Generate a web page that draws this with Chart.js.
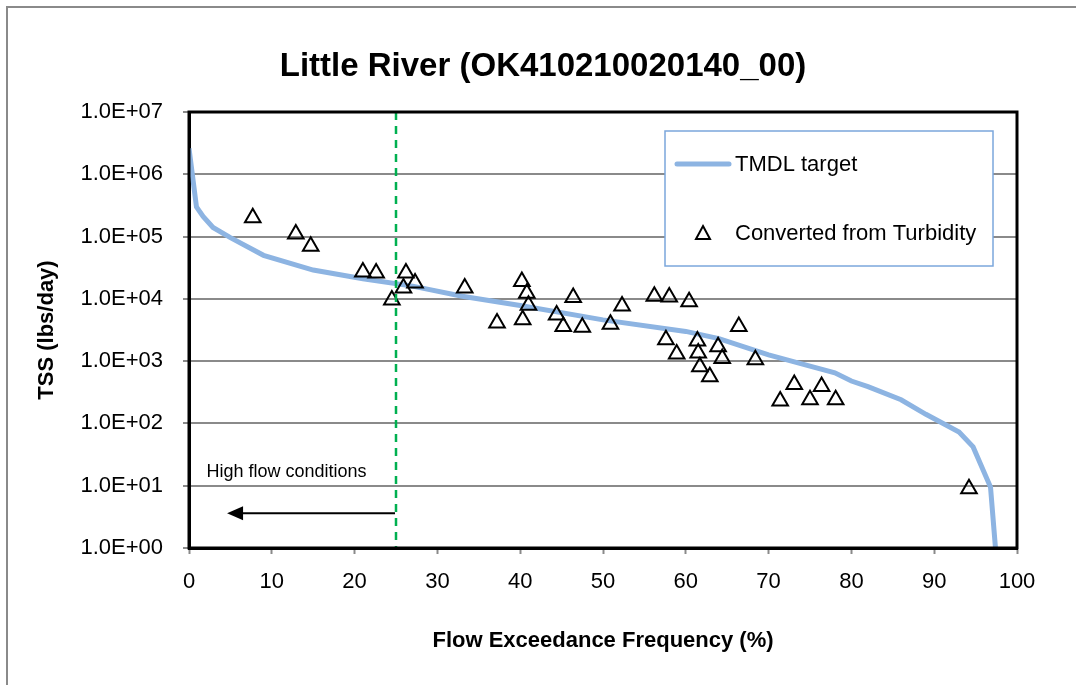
<!DOCTYPE html>
<html>
<head>
<meta charset="utf-8">
<script src="https://cdn.jsdelivr.net/npm/chart.js@4.4.1/dist/chart.umd.min.js"></script>
<style>
  html, body { margin: 0; padding: 0; background: #ffffff; }
  #wrap { width: 1076px; height: 685px; position: relative; }
</style>
</head>
<body>
<div id="wrap"><canvas id="c" width="1076" height="685"></canvas></div>
<script>
// ---- Data ----
const chartTitle = 'Little River (OK410210020140_00)';
const xAxisTitle = 'Flow Exceedance Frequency (%)';
const yAxisTitle = 'TSS (lbs/day)';
const tmdlLabel = 'TMDL target';
const obsLabel = 'Converted from Turbidity';
const annotationText = 'High flow conditions';
const highFlowBoundary = 25;
const arrowTipX = 4.6;
const arrowY = 3.6;

const tmdlX = [0, 0.9, 1.7, 2.9, 5, 9, 15, 21, 27, 33, 40, 50, 60, 64, 70, 75, 78, 80, 82, 86, 89, 93, 94.7, 96.8, 97.4];
const tmdlY = [2.6e6, 3.0e5, 2.1e5, 1.4e5, 9.6e4, 5.0e4, 2.9e4, 2.1e4, 1.6e4, 1.1e4, 7.8e3, 4.6e3, 3.0e3, 2.3e3, 1.26e3, 8.3e2, 6.5e2, 4.8e2, 3.9e2, 2.4e2, 1.4e2, 73, 42, 9.5, 1];

const obsX = [7.7, 12.9, 14.7, 21.0, 22.6, 24.5, 26.2, 25.9, 27.3, 33.3, 37.2, 40.2, 40.8, 41.0, 40.3, 44.4, 45.2, 46.4, 47.5, 50.9, 52.3, 56.2, 58.0, 60.4, 57.6, 58.9, 61.4, 61.5, 61.7, 62.9, 63.9, 64.4, 66.4, 68.4, 71.4, 73.1, 75.0, 76.4, 78.1, 94.2];
const obsY = [2.0e5, 1.1e5, 7.0e4, 2.7e4, 2.6e4, 9.6e3, 2.6e4, 1.5e4, 1.8e4, 1.5e4, 4.1e3, 1.9e4, 1.23e4, 7.9e3, 4.6e3, 5.5e3, 3.6e3, 1.05e4, 3.5e3, 3.9e3, 7.7e3, 1.1e4, 1.07e4, 9.0e3, 2.2e3, 1.3e3, 2.1e3, 1.35e3, 8.1e2, 5.6e2, 1.7e3, 1.1e3, 3.6e3, 1.05e3, 2.3e2, 4.2e2, 2.4e2, 3.9e2, 2.4e2, 8.9];

const yTickValues = [1, 10, 100, 1000, 10000, 100000, 1000000, 10000000];
const yTickLabels = ['1.0E+00', '1.0E+01', '1.0E+02', '1.0E+03', '1.0E+04', '1.0E+05', '1.0E+06', '1.0E+07'];
const xTickStep = 10;

// ---- Build ----
const FONT = "'Liberation Sans', Arial, sans-serif";
const tmdlColor = '#8DB4E2';
const tmdlData = tmdlX.map((x, i) => ({ x: x, y: tmdlY[i] }));
const obsData = obsX.map((x, i) => ({ x: x, y: obsY[i] }));

const decorPlugin = {
  id: 'decor',
  beforeDraw(chart) {
    const ctx = chart.ctx;
    ctx.save();
    ctx.fillStyle = '#ffffff';
    ctx.fillRect(0, 0, chart.width, chart.height);
    ctx.strokeStyle = '#8a8a8a';
    ctx.lineWidth = 2;
    ctx.beginPath();
    ctx.moveTo(7, chart.height + 5);
    ctx.lineTo(7, 7);
    ctx.lineTo(chart.width + 5, 7);
    ctx.stroke();
    // title
    ctx.fillStyle = '#000';
    ctx.font = 'bold 33px ' + FONT;
    ctx.textAlign = 'center';
    ctx.textBaseline = 'middle';
    ctx.fillText(chartTitle, 543, 67);
    ctx.restore();
  },
  afterDatasetsDraw(chart) {
    const ctx = chart.ctx;
    const xs = chart.scales.x, ys = chart.scales.y;
    const a = chart.chartArea;
    ctx.save();
    // dashed boundary
    const bx = xs.getPixelForValue(highFlowBoundary);
    ctx.strokeStyle = '#00B050';
    ctx.lineWidth = 2.5;
    ctx.setLineDash([8, 6]);
    ctx.beginPath();
    ctx.moveTo(bx, a.top);
    ctx.lineTo(bx, a.bottom);
    ctx.stroke();
    ctx.setLineDash([]);
    // arrow
    const ay = ys.getPixelForValue(arrowY);
    const tipX = xs.getPixelForValue(arrowTipX);
    ctx.strokeStyle = '#000';
    ctx.fillStyle = '#000';
    ctx.lineWidth = 2;
    ctx.beginPath();
    ctx.moveTo(bx - 1, ay);
    ctx.lineTo(tipX + 12, ay);
    ctx.stroke();
    ctx.beginPath();
    ctx.moveTo(tipX, ay);
    ctx.lineTo(tipX + 16, ay - 7);
    ctx.lineTo(tipX + 16, ay + 7);
    ctx.closePath();
    ctx.fill();
    // annotation text
    ctx.font = '18px ' + FONT;
    ctx.textAlign = 'left';
    ctx.textBaseline = 'middle';
    ctx.fillText(annotationText, xs.getPixelForValue(2.1), ys.getPixelForValue(10) - 14);
    // plot frame
    ctx.strokeStyle = '#000';
    ctx.lineWidth = 3;
    ctx.strokeRect(a.left, a.top, a.right - a.left, a.bottom - a.top);
    // legend
    const lx = 665, ly = 131, lw = 328, lh = 135;
    ctx.fillStyle = '#fff';
    ctx.fillRect(lx, ly, lw, lh);
    ctx.strokeStyle = '#7BA7DC';
    ctx.lineWidth = 1.5;
    ctx.strokeRect(lx, ly, lw, lh);
    ctx.strokeStyle = tmdlColor;
    ctx.lineWidth = 5;
    ctx.lineCap = 'round';
    ctx.beginPath();
    ctx.moveTo(677, 164);
    ctx.lineTo(729, 164);
    ctx.stroke();
    ctx.lineCap = 'butt';
    ctx.fillStyle = '#000';
    ctx.font = '22px ' + FONT;
    ctx.textBaseline = 'middle';
    ctx.fillText(tmdlLabel, 735, 165);
    ctx.fillText(obsLabel, 735, 234);
    ctx.strokeStyle = '#000';
    ctx.lineWidth = 2;
    ctx.beginPath();
    ctx.moveTo(703, 226);
    ctx.lineTo(710, 239);
    ctx.lineTo(696, 239);
    ctx.closePath();
    ctx.stroke();
    ctx.restore();
  }
};

new Chart(document.getElementById('c'), {
  type: 'scatter',
  data: {
    datasets: [
      {
        label: tmdlLabel,
        data: tmdlData,
        showLine: true,
        borderColor: tmdlColor,
        backgroundColor: tmdlColor,
        borderWidth: 5,
        pointRadius: 0,
        tension: 0,
        order: 2
      },
      {
        label: obsLabel,
        data: obsData,
        showLine: false,
        pointStyle: 'triangle',
        pointRadius: 9,
        pointBorderColor: '#000',
        pointBackgroundColor: 'rgba(255,255,255,0)',
        pointBorderWidth: 2,
        order: 1
      }
    ]
  },
  options: {
    responsive: false,
    animation: false,
    layout: { padding: { left: 0, right: 59, top: 112, bottom: 0 } },
    plugins: {
      legend: { display: false },
      tooltip: { enabled: false },
      title: { display: false }
    },
    scales: {
      x: {
        type: 'linear',
        min: 0,
        max: 100,
        ticks: {
          stepSize: xTickStep,
          color: '#000',
          font: { family: FONT, size: 22 },
          padding: 15,
          maxRotation: 0
        },
        grid: {
          drawOnChartArea: false,
          drawTicks: true,
          tickLength: 6,
          tickColor: '#8a8a8a',
          tickWidth: 2
        },
        border: { display: true, color: '#000', width: 3 },
        title: {
          display: true,
          text: xAxisTitle,
          color: '#000',
          font: { family: FONT, size: 22, weight: 'bold' },
          padding: { top: 0, bottom: 31 }
        },
        afterFit(scale) { scale.height = 137; }
      },
      y: {
        type: 'logarithmic',
        min: 1,
        max: 1e7,
        afterBuildTicks(scale) {
          scale.ticks = yTickValues.map(v => ({ value: v, major: true }));
        },
        ticks: {
          color: '#000',
          font: { family: FONT, size: 22 },
          padding: 20,
          callback(value) {
            const i = yTickValues.indexOf(value);
            return i >= 0 ? yTickLabels[i] : '';
          }
        },
        grid: {
          color: '#8a8a8a',
          lineWidth: 2,
          drawTicks: true,
          tickLength: 6,
          tickColor: '#8a8a8a',
          tickWidth: 2
        },
        border: { display: true, color: '#000', width: 3 },
        title: {
          display: true,
          text: yAxisTitle,
          color: '#000',
          font: { family: FONT, size: 22, weight: 'bold' },
          padding: { top: 34, bottom: 0 }
        },
        afterFit(scale) { scale.width = 189; }
      }
    }
  },
  plugins: [decorPlugin]
});
</script>
</body>
</html>
